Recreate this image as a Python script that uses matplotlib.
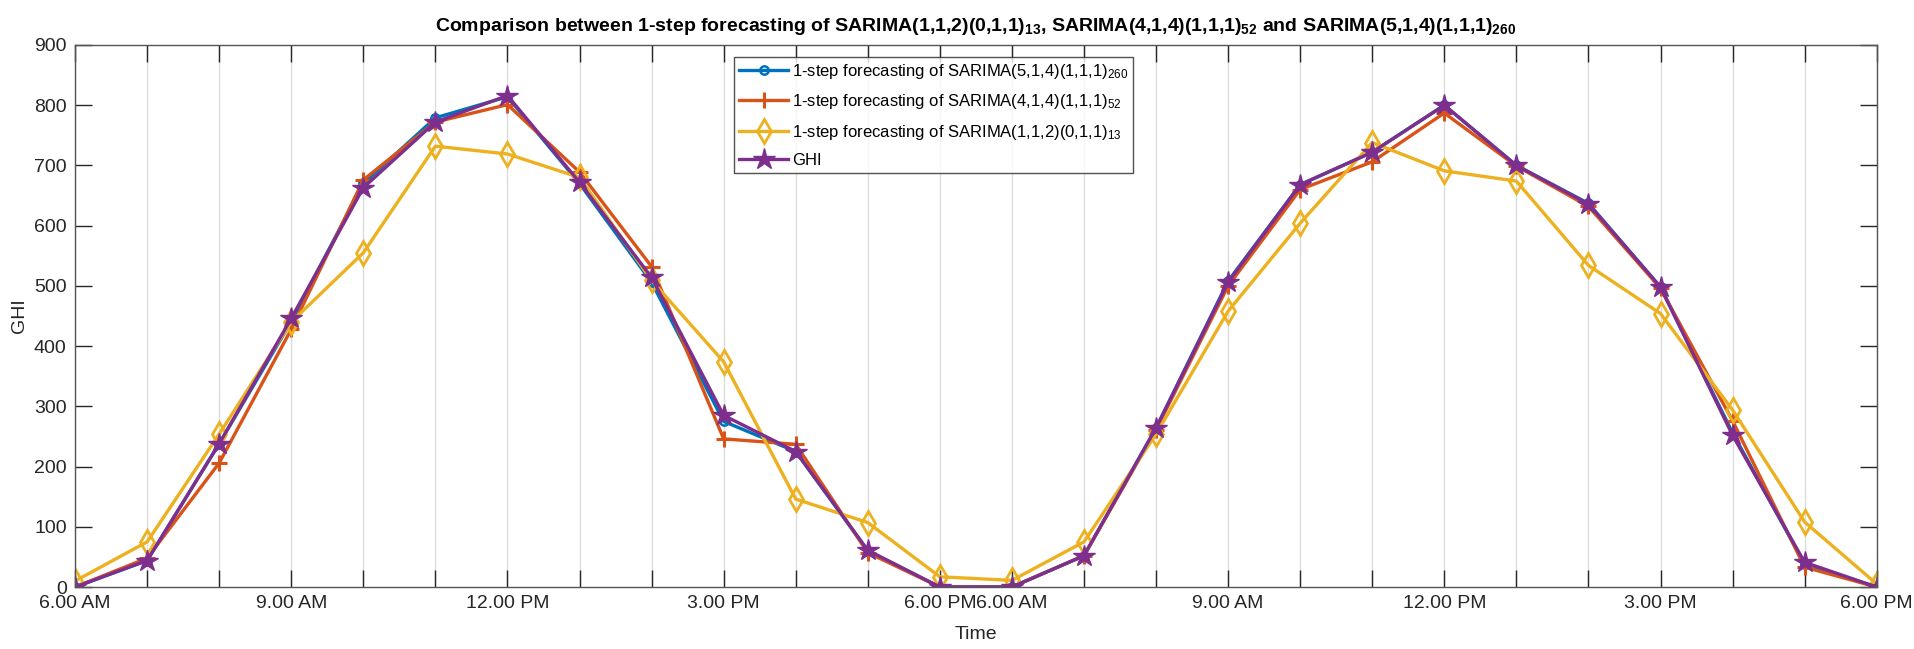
import matplotlib
matplotlib.use("Agg")
import matplotlib.pyplot as plt
from matplotlib.ticker import FixedLocator

plt.rcParams['font.family'] = ['Liberation Sans', 'DejaVu Sans']
plt.rcParams['mathtext.default'] = 'regular'

# ---- data ----
hours = list(range(26))
tick_labels = {0: '6.00 AM', 3: '9.00 AM', 6: '12.00 PM', 9: '3.00 PM', 12: '6.00 PM',
               13: '6.00 AM', 16: '9.00 AM', 19: '12.00 PM', 22: '3.00 PM', 25: '6.00 PM'}

sarima_260 = [0, 44, 238, 441, 670, 779, 814, 670, 506, 275, 225, 60, 0,
              0, 52, 264, 508, 668, 722, 800, 700, 637, 498, 256, 38, 0]
sarima_52 = [0, 48, 206, 428, 676, 772, 801, 689, 532, 246, 237, 57, 0,
             0, 52, 261, 500, 660, 706, 787, 699, 632, 496, 276, 33, 0]
sarima_13 = [10, 75, 254, 440, 555, 732, 719, 680, 509, 374, 146, 107, 17,
             11, 75, 254, 458, 604, 738, 691, 674, 534, 454, 294, 108, 5]
ghi = [0, 44, 238, 446, 663, 772, 816, 672, 514, 285, 225, 61, 0,
       0, 52, 264, 506, 668, 722, 800, 700, 636, 498, 252, 41, 0]

label_260 = '1-step forecasting of SARIMA(5,1,4)(1,1,1)$_{260}$'
label_52 = '1-step forecasting of SARIMA(4,1,4)(1,1,1)$_{52}$'
label_13 = '1-step forecasting of SARIMA(1,1,2)(0,1,1)$_{13}$'
label_ghi = 'GHI'
title = ('Comparison between 1-step forecasting of SARIMA(1,1,2)(0,1,1)$_{13}$, '
         'SARIMA(4,1,4)(1,1,1)$_{52}$ and SARIMA(5,1,4)(1,1,1)$_{260}$')

# ---- figure ----
fig = plt.figure(figsize=(19.15, 6.49), dpi=100)
ax = fig.add_axes([0.0392, 0.0955, 0.9408, 0.8352])

lw = 2.4
ax.plot(hours, sarima_260, color='#0072BD', lw=lw, marker='o', ms=6,
        mfc='none', mew=1.8, label=label_260)
ax.plot(hours, sarima_52, color='#D95319', lw=lw, marker='+', ms=11,
        mew=2.2, label=label_52)
ax.plot(hours, sarima_13, color='#EDB120', lw=lw, marker='d', ms=12,
        mfc='none', mew=2.0, label=label_13)
ax.plot(hours, ghi, color='#7E2F8E', lw=lw, marker='*', ms=16,
        mec='#7E2F8E', label=label_ghi)

ax.set_xlim(0, 25)
ax.set_ylim(0, 900)
ax.xaxis.set_major_locator(FixedLocator(hours))
ax.set_xticklabels([tick_labels.get(h, '') for h in hours])
ax.set_yticks(range(0, 901, 100))

ax.tick_params(axis='both', direction='in', length=12, width=1.0,
               colors='#262626', labelsize=14, top=True, right=True, pad=6)
ax.tick_params(axis='y', labelright=False)
for s in ax.spines.values():
    s.set_color('#555555')
    s.set_linewidth(1.0)

ax.grid(axis='x', color='#dcdcdc', lw=1.0)
ax.set_axisbelow(True)

ax.set_xlabel('Time', fontsize=14, color='#262626', labelpad=10)
ax.set_ylabel('GHI', fontsize=14, color='#262626', labelpad=4)
ax.set_title(title, fontsize=14, fontweight='bold', color='black', pad=10)

leg = ax.legend(loc='upper left', bbox_to_anchor=(0.366, 0.978), fontsize=12,
                frameon=True, fancybox=False, edgecolor='#262626',
                handlelength=2.9, borderpad=0.3, labelspacing=0.68,
                handletextpad=0.25, borderaxespad=0)
leg.get_frame().set_linewidth(1.0)

fig.savefig('out.png', dpi=100)
